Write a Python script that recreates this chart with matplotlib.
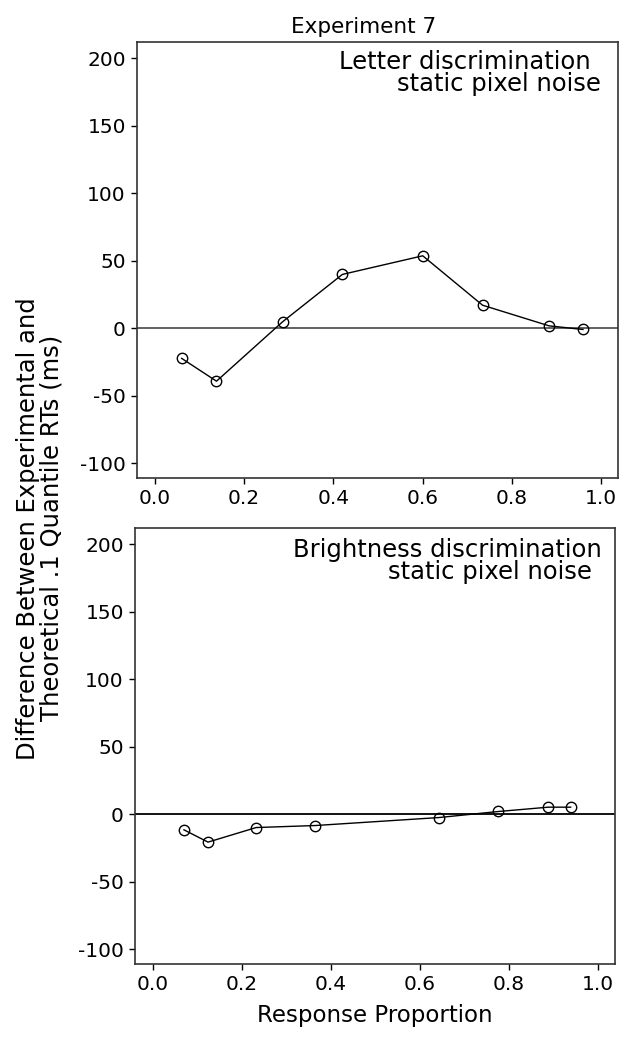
import matplotlib
matplotlib.use("Agg")
import matplotlib.pyplot as plt

plt.rcParams['font.family'] = ['DejaVu Sans']
plt.rcParams['axes.unicode_minus'] = False

# Experiment 7: experimental minus theoretical .1 quantile RTs
letter_x = [0.06, 0.138, 0.286, 0.42, 0.60, 0.734, 0.883, 0.959]
letter_y = [-22.4, -39.3, 4.7, 39.8, 53.6, 17.0, 1.7, -1.0]

bright_x = [0.07, 0.124, 0.232, 0.365, 0.642, 0.776, 0.888, 0.938]
bright_y = [-11.6, -20.7, -9.9, -8.4, -2.5, 2.0, 5.2, 5.2]

task_labels = ["Letter discrimination", "Brightness discrimination"]
noise_label = "static pixel noise"
yticks = [200, 150, 100, 50, 0, -50, -100]
xticks = [0.0, 0.2, 0.4, 0.6, 0.8, 1.0]

fig = plt.figure(figsize=(6.4, 10.5), dpi=100)
ax1 = fig.add_axes([0.2141, 0.5448, 0.7516, 0.4152])
ax2 = fig.add_axes([0.2109, 0.0819, 0.75, 0.4152])

panels = [
    (ax1, letter_x, letter_y, task_labels[0], '#555555', (0.942, 0.982), (0.965, 0.931)),
    (ax2, bright_x, bright_y, task_labels[1], 'black', (0.973, 0.977), (0.952, 0.927)),
]

for ax, xs, ys, label, zc, pos1, pos2 in panels:
    ax.axhline(0, color=zc, lw=1.3, zorder=1)
    ax.plot(xs, ys, color='black', lw=1.0, marker='o', markersize=7.5,
            markerfacecolor='none', markeredgecolor='black', markeredgewidth=1.0, zorder=2)
    ax.set_xlim(-0.04, 1.0375)
    ax.set_ylim(-111, 212)
    ax.set_yticks(yticks)
    ax.set_xticks(xticks)
    ax.set_xticklabels([f"{t:.1f}" for t in xticks])
    ax.tick_params(direction='out', length=4, width=1, labelsize=14.5, pad=4)
    for s in ax.spines.values():
        s.set_linewidth(1.2)
        s.set_color('#333333')
    ax.text(pos1[0], pos1[1], label, transform=ax.transAxes, ha='right', va='top', fontsize=17.5)
    ax.text(pos2[0], pos2[1], noise_label, transform=ax.transAxes, ha='right', va='top', fontsize=17.5)

ax1.text(0.472, 1.012, "Experiment 7", transform=ax1.transAxes, ha='center', va='bottom',
         fontsize=15.5)
ax2.set_xlabel("Response Proportion", fontsize=16.5, labelpad=7)
fig.text(0.0625, 0.497, "Difference Between Experimental and\nTheoretical .1 Quantile RTs (ms)",
         rotation=90, ha='center', va='center', fontsize=17.5, linespacing=1.0)

fig.savefig("out.png", dpi=100)
